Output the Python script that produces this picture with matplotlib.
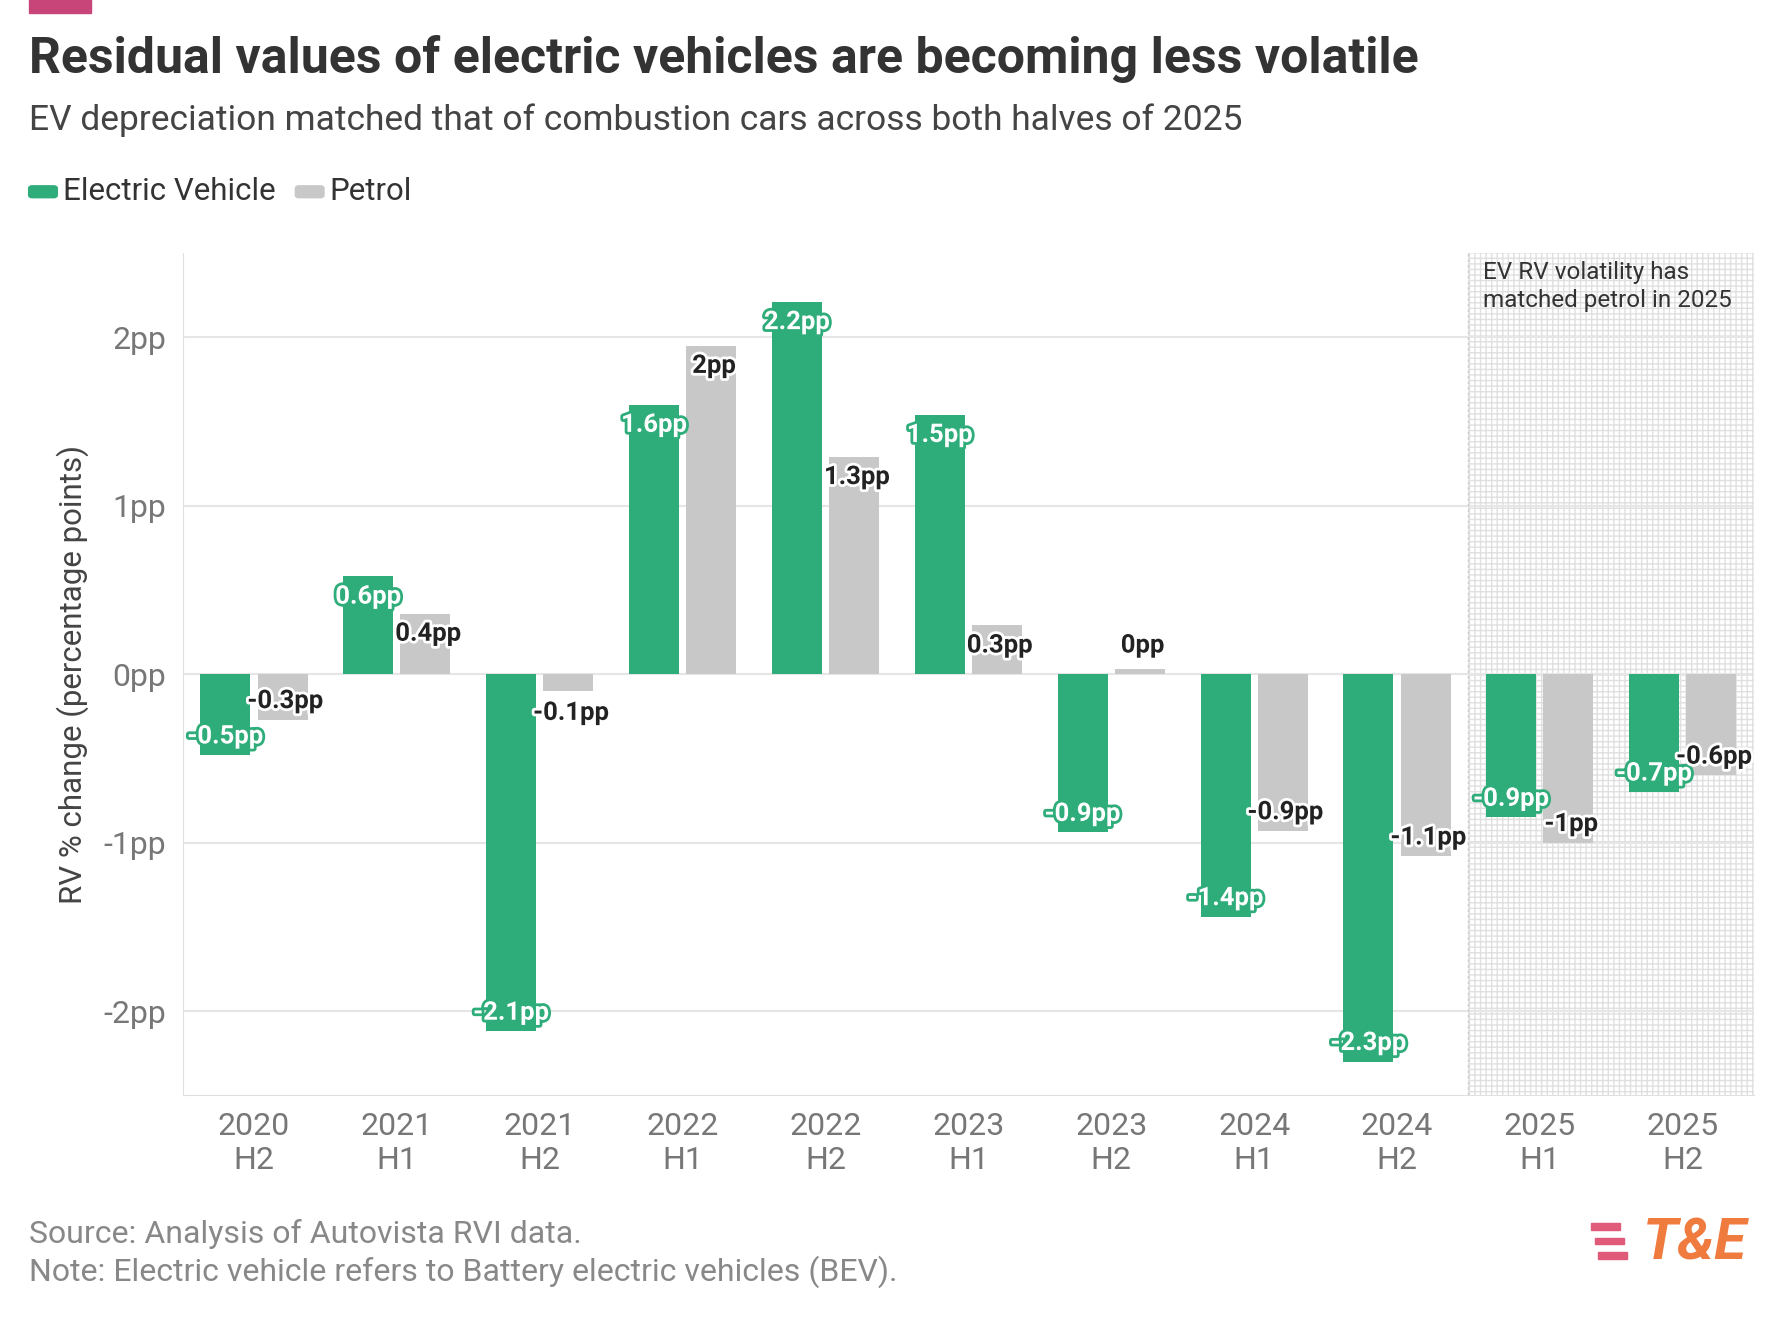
import matplotlib
matplotlib.use("Agg")
import matplotlib.pyplot as plt
import matplotlib.patheffects as pe
from matplotlib.patches import Rectangle, FancyBboxPatch

periods = ["2020\nH2","2021\nH1","2021\nH2","2022\nH1","2022\nH2","2023\nH1","2023\nH2","2024\nH1","2024\nH2","2025\nH1","2025\nH2"]
ev = [-0.48, 0.58, -2.12, 1.6, 2.21, 1.54, -0.94, -1.44, -2.3, -0.85, -0.7]
ev_labels = ["-0.5pp","0.6pp","-2.1pp","1.6pp","2.2pp","1.5pp","-0.9pp","-1.4pp","-2.3pp","-0.9pp","-0.7pp"]
petrol = [-0.27, 0.36, -0.1, 1.95, 1.29, 0.29, 0.03, -0.93, -1.08, -1.0, -0.6]
petrol_labels = ["-0.3pp","0.4pp","-0.1pp","2pp","1.3pp","0.3pp","0pp","-0.9pp","-1.1pp","-1pp","-0.6pp"]
yticks = [-2, -1, 0, 1, 2]
ytick_labels = ["-2pp", "-1pp", "0pp", "1pp", "2pp"]

plt.rcParams['font.family'] = ['Roboto', 'DejaVu Sans']
GREEN = "#2ead7a"; GREY = "#c8c8c8"

fig = plt.figure(figsize=(17.9, 13.18), dpi=100)
ax = fig.add_axes([0.102, 0.169, 0.878, 0.639])
x = list(range(len(periods)))
w = 0.35
ax.bar([i - 0.2 for i in x], ev, width=w, color=GREEN, zorder=3)
ax.bar([i + 0.2 for i in x], petrol, width=w, color=GREY, zorder=3)

def label_y(v):
    if abs(v) < 0.05:
        return v + 0.14
    if v > 0:
        return v - 0.12
    if abs(v) < 0.2:
        return v - 0.13
    return v + 0.11

for i in x:
    ax.text(i - 0.2, label_y(ev[i]), ev_labels[i], ha="center", va="center",
            color="white", fontsize=18.5, fontweight="bold", zorder=5,
            path_effects=[pe.withStroke(linewidth=4, foreground=GREEN)])
    ax.text(i + 0.22, label_y(petrol[i]), petrol_labels[i], ha="center", va="center",
            color="#222222", fontsize=18.5, fontweight="bold", zorder=5,
            path_effects=[pe.withStroke(linewidth=4, foreground="white")])

ax.add_patch(Rectangle((8.5, -2.5), 2.0, 5.0, facecolor="none", edgecolor="#e0e0e0",
                       hatch="+++", linewidth=0, zorder=1))
ax.axvline(8.5, color="#cccccc", ls=(0, (2, 2)), lw=1, zorder=2)
ax.text(8.6, 2.45, "EV RV volatility has\nmatched petrol in 2025", ha="left", va="top",
        fontsize=17.5, color="#333333", zorder=4, linespacing=1.25)

ax.set_xlim(-0.5, 10.5)
ax.set_ylim(-2.5, 2.5)
ax.set_yticks(yticks)
ax.set_yticklabels(ytick_labels)
ax.set_xticks(x)
ax.set_xticklabels(periods, linespacing=1.2)
ax.tick_params(axis="both", length=0, labelsize=23, colors="#777777", pad=12)
ax.grid(axis="y", color="#e6e6e6", lw=1.5, zorder=0)
for s in ["top", "right"]:
    ax.spines[s].set_visible(False)
for s in ["left", "bottom"]:
    ax.spines[s].set_color("#e0e0e0")
ax.set_ylabel("RV % change (percentage points)", fontsize=22.5, color="#444444", labelpad=10)

fig.patches.append(Rectangle((0.016, 0.990), 0.035, 0.012, transform=fig.transFigure, color="#c8457a"))
fig.text(0.016, 0.955, "Residual values of electric vehicles are becoming less volatile",
         fontsize=36, fontweight="bold", color="#333333", va="center")
fig.text(0.016, 0.909, "EV depreciation matched that of combustion cars across both halves of 2025",
         fontsize=25.5, color="#444444", va="center")
fig.patches.append(FancyBboxPatch((0.018, 0.852), 0.012, 0.005, boxstyle="round,pad=0.002",
                                  transform=fig.transFigure, color=GREEN))
fig.text(0.035, 0.855, "Electric Vehicle", fontsize=22.5, color="#333333", va="center")
fig.patches.append(FancyBboxPatch((0.167, 0.852), 0.012, 0.005, boxstyle="round,pad=0.002",
                                  transform=fig.transFigure, color=GREY))
fig.text(0.184, 0.855, "Petrol", fontsize=22.5, color="#333333", va="center")

fig.text(0.016, 0.064, "Source: Analysis of Autovista RVI data.", fontsize=23, color="#888888", va="center")
fig.text(0.016, 0.035, "Note: Electric vehicle refers to Battery electric vehicles (BEV).", fontsize=23, color="#888888", va="center")
for k, yy in enumerate([0.067, 0.056, 0.045]):
    fig.patches.append(Rectangle((0.889 + 0.002*k, yy), 0.016, 0.005, transform=fig.transFigure, color="#e05a7a"))
fig.text(0.918, 0.056, "T&E", fontsize=42, fontweight="bold", fontstyle="italic", color="#f07b3f", va="center")

fig.savefig("out.png", dpi=100)
